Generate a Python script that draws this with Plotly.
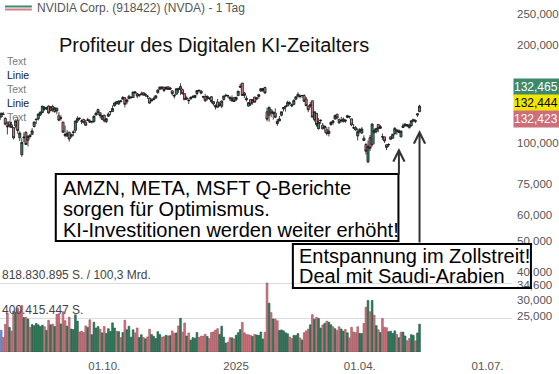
import math
import plotly.graph_objects as go

# ---------------- data ----------------
DATES = [
    # 2024-07
    "2024-07-17", "2024-07-18", "2024-07-19", "2024-07-22", "2024-07-23", "2024-07-24", "2024-07-25", "2024-07-26",
    "2024-07-29", "2024-07-30", "2024-07-31",
    # 2024-08
    "2024-08-01", "2024-08-02", "2024-08-05", "2024-08-06", "2024-08-07", "2024-08-08", "2024-08-09", "2024-08-12",
    "2024-08-13", "2024-08-14", "2024-08-15", "2024-08-16", "2024-08-19", "2024-08-20", "2024-08-21", "2024-08-22",
    "2024-08-23", "2024-08-26", "2024-08-27", "2024-08-28", "2024-08-29", "2024-08-30",
    # 2024-09
    "2024-09-03", "2024-09-04", "2024-09-05", "2024-09-06", "2024-09-09", "2024-09-10", "2024-09-11", "2024-09-12",
    "2024-09-13", "2024-09-16", "2024-09-17", "2024-09-18", "2024-09-19", "2024-09-20", "2024-09-23", "2024-09-24",
    "2024-09-25", "2024-09-26", "2024-09-27", "2024-09-30",
    # 2024-10
    "2024-10-01", "2024-10-02", "2024-10-03", "2024-10-04", "2024-10-07", "2024-10-08", "2024-10-09", "2024-10-10",
    "2024-10-11", "2024-10-14", "2024-10-15", "2024-10-16", "2024-10-17", "2024-10-18", "2024-10-21", "2024-10-22",
    "2024-10-23", "2024-10-24", "2024-10-25", "2024-10-28", "2024-10-29", "2024-10-30", "2024-10-31",
    # 2024-11
    "2024-11-01", "2024-11-04", "2024-11-05", "2024-11-06", "2024-11-07", "2024-11-08", "2024-11-11", "2024-11-12",
    "2024-11-13", "2024-11-14", "2024-11-15", "2024-11-18", "2024-11-19", "2024-11-20", "2024-11-21", "2024-11-22",
    "2024-11-25", "2024-11-26", "2024-11-27", "2024-11-29",
    # 2024-12
    "2024-12-02", "2024-12-03", "2024-12-04", "2024-12-05", "2024-12-06", "2024-12-09", "2024-12-10", "2024-12-11",
    "2024-12-12", "2024-12-13", "2024-12-16", "2024-12-17", "2024-12-18", "2024-12-19", "2024-12-20", "2024-12-23",
    "2024-12-24", "2024-12-26", "2024-12-27", "2024-12-30", "2024-12-31",
    # 2025-01
    "2025-01-02", "2025-01-03", "2025-01-06", "2025-01-07", "2025-01-08", "2025-01-10", "2025-01-13", "2025-01-14",
    "2025-01-15", "2025-01-16", "2025-01-17", "2025-01-21", "2025-01-22", "2025-01-23", "2025-01-24", "2025-01-27",
    "2025-01-28", "2025-01-29", "2025-01-30", "2025-01-31",
    # 2025-02
    "2025-02-03", "2025-02-04", "2025-02-05", "2025-02-06", "2025-02-07", "2025-02-10", "2025-02-11", "2025-02-12",
    "2025-02-13", "2025-02-14", "2025-02-18", "2025-02-19", "2025-02-20", "2025-02-21", "2025-02-24", "2025-02-25",
    "2025-02-26", "2025-02-27", "2025-02-28",
    # 2025-03
    "2025-03-03", "2025-03-04", "2025-03-05", "2025-03-06", "2025-03-07", "2025-03-10", "2025-03-11", "2025-03-12",
    "2025-03-13", "2025-03-14", "2025-03-17", "2025-03-18", "2025-03-19", "2025-03-20", "2025-03-21", "2025-03-24",
    "2025-03-25", "2025-03-26", "2025-03-27", "2025-03-28", "2025-03-31",
    # 2025-04
    "2025-04-01", "2025-04-02", "2025-04-03", "2025-04-04", "2025-04-07", "2025-04-08", "2025-04-09", "2025-04-10",
    "2025-04-11", "2025-04-14", "2025-04-15", "2025-04-16", "2025-04-17", "2025-04-21", "2025-04-22", "2025-04-23",
    "2025-04-24", "2025-04-25", "2025-04-28", "2025-04-29", "2025-04-30",
    # 2025-05
    "2025-05-01", "2025-05-02", "2025-05-05", "2025-05-06", "2025-05-07", "2025-05-08", "2025-05-09", "2025-05-12",
    "2025-05-13",
]

OPEN = [
    121.35, 121.85, 120.35, 120.35, 122.78, 119.17, 113.04, 116.19, 113.69, 111.52, 112.90,
    117.53, 103.76, 92.06, 103.84, 107.81, 102.00, 105.64, 106.32, 112.44, 118.53, 118.76, 121.94, 124.28, 128.40,
    127.32, 130.02, 125.86, 129.57, 125.05, 128.12, 121.36, 119.53,
    116.01, 105.41, 104.99, 108.04, 104.88, 107.81, 109.39, 116.84, 119.08, 116.79, 118.17, 115.89, 117.35, 117.06,
    116.55, 116.52, 122.02, 126.80, 123.97, 118.31,
    121.77, 116.44, 120.92, 124.94, 124.99, 130.26, 134.11, 131.91, 134.01, 136.47, 137.87, 133.98, 139.34, 138.67,
    138.13, 142.91, 142.03, 140.82, 140.93, 143.00, 140.29, 139.54, 137.60,
    134.70, 137.21, 137.45, 142.96, 146.39, 148.77, 148.68, 146.78, 149.07, 147.64, 144.87, 139.50, 141.32, 147.41,
    149.35, 145.93, 141.99, 137.70, 135.01, 136.78,
    138.83, 138.26, 142.00, 145.11, 144.60, 138.97, 139.01, 137.36, 137.08, 138.94, 134.18, 129.09, 133.86, 131.76,
    129.81, 136.28, 140.00, 139.70, 138.55, 134.83, 138.03,
    136.00, 140.01, 148.59, 153.03, 142.58, 137.45, 129.99, 136.05, 133.65, 138.64, 136.69, 139.16, 144.66, 145.05,
    148.37, 124.80, 121.81, 126.50, 123.10, 123.78,
    114.75, 116.96, 121.76, 127.42, 129.22, 130.09, 132.58, 130.02, 131.56, 136.48, 141.27, 139.51, 140.03, 140.04,
    136.56, 129.98, 129.99, 135.00, 118.02,
    123.51, 110.65, 117.58, 113.53, 111.25, 109.90, 106.99, 114.12, 117.03, 118.61, 122.74, 118.00, 117.27, 116.55,
    116.77, 119.88, 120.55, 118.73, 111.35, 111.49, 105.13,
    108.52, 107.29, 103.51, 98.91, 87.46, 103.81, 98.89, 109.37, 108.50, 114.11, 110.97, 104.55, 104.45, 98.77,
    98.78, 104.52, 103.48, 106.85, 109.69, 107.67, 104.47,
    113.08, 112.91, 112.80, 111.48, 113.05, 118.25, 117.35, 121.97, 124.98,
]

HIGH = [
    121.85, 122.40, 121.60, 124.07, 124.69, 119.95, 116.63, 116.20, 116.28, 111.99, 118.34,
    120.16, 108.72, 103.41, 107.71, 108.80, 105.50, 106.60, 111.07, 116.23, 118.60, 123.24, 125.00, 130.00, 129.88,
    129.35, 130.75, 129.60, 131.26, 129.20, 128.33, 124.43, 121.75,
    116.21, 113.27, 109.65, 108.15, 106.55, 109.40, 117.19, 120.79, 119.96, 118.18, 118.80, 117.70, 119.66, 118.62,
    116.99, 121.80, 124.94, 127.67, 124.03, 121.50,
    122.44, 119.38, 124.36, 125.04, 130.64, 133.48, 134.52, 135.00, 135.78, 139.60, 138.57, 136.62, 140.89, 138.90,
    143.71, 144.42, 142.43, 141.35, 144.13, 143.14, 142.26, 140.33, 138.35,
    137.31, 138.96, 140.37, 146.49, 148.93, 149.77, 148.85, 149.65, 149.33, 149.00, 145.24, 141.55, 147.13, 147.56,
    152.89, 147.16, 142.05, 139.30, 137.22, 139.35,
    140.45, 140.45, 145.79, 146.54, 145.70, 139.95, 141.82, 140.17, 138.44, 139.60, 134.40, 131.59, 136.70, 134.03,
    135.28, 139.79, 141.90, 140.85, 139.02, 140.27, 138.07,
    138.88, 144.90, 152.16, 153.13, 143.95, 139.92, 133.49, 136.38, 136.45, 138.75, 138.50, 141.83, 147.79, 147.23,
    148.97, 128.40, 129.00, 126.89, 125.00, 127.85,
    118.57, 121.20, 125.00, 128.77, 130.37, 135.00, 134.48, 132.24, 136.50, 139.25, 143.44, 141.36, 140.67, 141.46,
    138.59, 130.20, 133.73, 135.01, 125.09,
    123.70, 119.31, 118.28, 115.35, 113.00, 111.85, 112.23, 116.77, 117.76, 121.89, 122.90, 119.02, 120.45, 120.00,
    117.99, 122.22, 121.29, 118.84, 114.45, 112.87, 110.96,
    111.12, 111.98, 105.63, 100.13, 101.75, 105.85, 115.10, 110.86, 110.86, 114.29, 113.62, 106.95, 104.47, 99.00,
    99.81, 104.80, 106.54, 111.92, 110.37, 110.20, 108.92,
    114.94, 114.67, 114.40, 114.74, 117.68, 118.68, 118.23, 123.00, 131.22,
]

LOW = [
    116.72, 116.56, 117.37, 119.86, 122.10, 113.44, 106.30, 111.58, 111.30, 102.54, 110.88,
    106.81, 101.37, 90.69, 100.55, 98.69, 97.52, 103.43, 106.26, 111.58, 114.38, 117.47, 121.18, 123.42, 125.89,
    126.66, 123.10, 125.22, 124.37, 123.88, 122.64, 116.71, 117.22,
    107.29, 104.12, 104.76, 100.95, 103.69, 104.95, 107.42, 115.38, 117.60, 114.36, 114.83, 113.22, 117.25, 115.39,
    114.86, 115.38, 121.61, 121.80, 119.26, 118.15,
    115.79, 115.14, 120.34, 121.83, 124.95, 129.42, 131.38, 131.00, 133.66, 136.30, 128.74, 131.58, 136.87, 137.28,
    138.00, 141.78, 137.46, 138.46, 140.80, 140.05, 138.90, 136.81, 132.22,
    134.57, 135.57, 137.33, 141.96, 146.17, 146.26, 143.57, 146.01, 145.90, 145.55, 140.08, 137.15, 140.99, 142.73,
    140.70, 141.10, 135.82, 135.67, 131.80, 136.05,
    137.82, 137.32, 140.29, 143.95, 141.31, 137.13, 133.79, 135.21, 135.80, 132.54, 130.42, 126.86, 128.28, 129.55,
    128.22, 135.12, 138.65, 137.73, 134.71, 134.02, 133.83,
    134.63, 139.73, 147.82, 140.01, 137.56, 134.22, 129.51, 130.05, 131.29, 133.49, 135.46, 137.09, 143.67, 143.72,
    141.88, 116.70, 116.25, 120.05, 118.10, 119.19,
    113.01, 116.70, 120.76, 125.21, 125.00, 129.96, 131.02, 129.08, 131.17, 135.50, 137.93, 137.22, 137.78, 134.03,
    130.08, 124.44, 128.49, 120.01, 116.40,
    112.28, 110.11, 114.51, 110.22, 107.56, 105.46, 104.77, 112.88, 113.79, 118.15, 118.10, 114.54, 115.66, 115.58,
    115.37, 119.26, 118.90, 112.70, 110.66, 109.07, 101.83,
    107.00, 106.79, 101.60, 92.11, 86.62, 94.46, 97.53, 99.15, 107.16, 107.93, 110.50, 102.30, 100.05, 95.04,
    97.28, 102.02, 103.11, 105.73, 106.02, 107.44, 104.08,
    111.30, 112.66, 112.10, 110.82, 112.28, 115.85, 115.21, 120.28, 124.47,
]

CLOSE = [
    117.99, 121.09, 117.93, 123.54, 122.59, 114.25, 112.28, 113.06, 111.59, 103.73, 117.02,
    109.21, 107.27, 100.45, 104.25, 98.91, 104.97, 104.75, 109.02, 116.14, 118.08, 122.86, 124.58, 130.00, 127.25,
    128.50, 123.74, 129.37, 126.46, 128.30, 125.61, 117.59, 119.37,
    108.00, 106.21, 107.21, 102.83, 106.47, 108.10, 116.91, 119.14, 119.10, 116.78, 115.59, 113.37, 117.87, 116.00,
    116.26, 120.87, 123.51, 124.04, 121.40, 121.44,
    117.00, 118.85, 122.85, 124.92, 127.72, 132.89, 132.65, 134.81, 134.80, 138.07, 131.60, 135.72, 136.93, 138.00,
    143.71, 143.59, 139.56, 140.41, 141.54, 140.52, 141.25, 139.34, 132.76,
    135.40, 136.05, 139.91, 145.61, 148.88, 147.63, 145.26, 148.29, 146.27, 146.76, 141.98, 140.15, 147.01, 145.89,
    146.67, 141.95, 136.02, 136.92, 135.34, 138.25,
    138.63, 140.26, 145.14, 145.06, 142.44, 138.81, 135.07, 139.31, 137.34, 134.25, 132.00, 130.39, 128.91, 130.68,
    134.70, 139.67, 140.22, 139.93, 137.01, 137.49, 134.29,
    138.31, 144.47, 149.43, 140.14, 140.11, 135.91, 133.23, 131.76, 136.24, 133.57, 137.71, 140.83, 147.07, 147.22,
    142.62, 118.42, 128.99, 123.70, 124.65, 120.07,
    116.66, 118.65, 124.83, 128.68, 129.84, 133.57, 132.80, 131.14, 135.29, 138.85, 139.40, 139.23, 140.11, 134.43,
    130.28, 126.63, 131.28, 120.15, 124.92,
    114.06, 115.99, 117.30, 110.57, 112.69, 106.98, 108.76, 115.74, 115.58, 121.67, 119.53, 115.43, 117.52, 118.53,
    117.70, 121.41, 120.69, 113.76, 111.43, 109.67, 108.38,
    110.15, 110.42, 101.80, 94.31, 97.64, 96.30, 114.33, 107.57, 110.93, 110.71, 112.20, 104.49, 101.49, 96.91,
    98.89, 102.71, 106.43, 111.01, 108.73, 109.02, 108.92,
    111.61, 114.50, 113.82, 113.54, 117.06, 117.37, 116.65, 123.00, 129.93,
]

VOLUME_MIO = [
    390, 320, 218, 258, 173, 327, 460, 293, 248, 486, 473,
    523, 482, 552, 409, 411, 391, 290, 325, 312, 339, 322, 302, 318, 300, 257, 376, 323, 331, 303, 448, 453, 333,
    477, 372, 307, 413, 273, 268, 441, 367, 238, 248, 231, 310, 293, 382, 206, 354, 284, 302, 271, 227,
    302, 221, 277, 244, 346, 285, 246, 242, 170, 232, 377, 264, 306, 176, 264, 226, 285, 172, 205, 173, 157, 179, 270,
    207, 187, 160, 242, 208, 175, 182, 198, 191, 194, 250, 221, 227, 309, 400, 236, 344, 190, 226, 141,
    171, 164, 231, 172, 188, 189, 210, 184, 159, 231, 238, 260, 277, 209, 306, 176, 105, 116, 170, 168, 155,
    198, 229, 266, 351, 228, 207, 204, 196, 185, 209, 202, 197, 237, 155, 234, 818.83, 580, 467, 392, 390,
    371, 256, 262, 251, 228, 216, 178, 160, 197, 195, 219, 167, 143, 229, 251, 271, 323, 443, 389,
    411, 398, 285, 321, 341, 366, 354, 323, 300, 277, 255, 299, 273, 248, 267, 228, 167, 293, 237, 229, 300,
    222, 220, 338, 532, 612, 477, 612, 437, 313, 264, 231, 397, 292, 288, 241, 247, 220, 251, 207, 170, 235,
    236, 191, 133, 159, 206, 198, 132, 226, 330,
]

HOLIDAYS = ["2024-09-02", "2024-11-28", "2024-12-25", "2025-01-01", "2025-01-09", "2025-01-20",
            "2025-02-17", "2025-04-18", "2025-05-26", "2025-06-19", "2025-07-04"]

PRICE_TICK_TEXT = ["250,000", "200,000", "100,000", "75,000", "60,000", "50,000", "40,000",
                   "34,600", "30,000", "25,000"]
PRICE_TICK_POS = [250, 200, 100, 75, 60, 50, 40, 36.48, 32.8, 29.27]

X_TICK_VALS = ["2024-10-01", "2025-01-02", "2025-04-01", "2025-07-01"]
X_TICK_TEXT = ["01.10.", "2025", "01.04.", "01.07."]
X_RANGE = ["2024-07-19 10:00", "2025-07-17 21:00"]

VOL_GRID_VALS = [400.415447, 818.830895]
VOL_GRID_TEXT = ["400.415.447 S.", "818.830.895 S. / 100,3 Mrd."]

QUOTE_TEXT = ["132,465", "132,444", "132,423"]
QUOTE_PRICE = 132.444

TITLE = "Profiteur des Digitalen KI-Zeitalters"
HEADER = "NVIDIA Corp. (918422) (NVDA) - 1 Tag"
SIDE_ITEMS = ["Text", "Linie", "Text", "Linie", "Text"]
BOX1_LINES = ["AMZN, META, MSFT Q-Berichte", "sorgen für Optimismus.",
              "KI-Investitionen werden weiter erhöht!"]
BOX2_LINES = ["Entspannung im Zollstreit!", "Deal mit Saudi-Arabien"]
ARROW_DATES = ["2025-04-29", "2025-05-13"]

# ---------------- styling / geometry ----------------
W, H = 559, 374
ML, MR, MT, MB = 0, 45, 0, 22
PW, PH = W - ML - MR, H - MT - MB
FONT = "Liberation Sans, Arial, sans-serif"
GREEN = "#3b8a6b"
RED = "#d47c87"
VGREEN = "#2f7a5b"
VRED = "#cf7580"


def px(x):
    return (x - ML) / PW


def py(y):
    return 1 - (y - MT) / PH


vol_colors = []
vol_lines = []
for i, v in enumerate(VOLUME_MIO):
    if i <= 3:
        vol_colors.append("#6f93d8")
        vol_lines.append("#4a6fb5")
    elif CLOSE[i] >= CLOSE[i - 1]:
        vol_colors.append(VGREEN)
        vol_lines.append("#1f5a42")
    else:
        vol_colors.append(VRED)
        vol_lines.append("#9e4d58")

fig = go.Figure()

fig.add_trace(go.Bar(
    x=DATES, y=VOLUME_MIO, yaxis="y2",
    marker=dict(color=vol_colors, line=dict(color=vol_lines, width=0.6)),
    hoverinfo="skip", showlegend=False,
))

fig.add_trace(go.Candlestick(
    x=DATES, open=OPEN, high=HIGH, low=LOW, close=CLOSE,
    increasing=dict(fillcolor=GREEN, line=dict(color="#111111", width=0.8)),
    decreasing=dict(fillcolor=RED, line=dict(color="#111111", width=0.8)),
    whiskerwidth=0, hoverinfo="skip", showlegend=False, yaxis="y",
))

top_log = 2 + 143 / 324.2
bot_log = top_log - PH / 324.2
vol_max = 818.830895 * PH / 69.0

fig.update_layout(
    width=W, height=H,
    margin=dict(l=ML, r=MR, t=MT, b=MB),
    paper_bgcolor="white", plot_bgcolor="white",
    font=dict(family=FONT, size=11, color="#555555"),
    showlegend=False, bargap=0.15, boxgap=0.0, boxgroupgap=0.0,
    xaxis=dict(
        type="date", range=X_RANGE,
        rangebreaks=[dict(bounds=["sat", "mon"]), dict(values=HOLIDAYS)],
        tickvals=X_TICK_VALS, ticktext=X_TICK_TEXT, ticks="", showgrid=False,
        zeroline=False, showline=False, rangeslider=dict(visible=False),
        tickfont=dict(size=11.5, color="#555555", family=FONT), ticklabelstandoff=5,
    ),
    yaxis=dict(
        type="log", range=[bot_log, top_log], side="right",
        tickvals=PRICE_TICK_POS, ticktext=PRICE_TICK_TEXT, ticks="",
        showgrid=False, zeroline=False, showline=False,
        tickfont=dict(size=11.5, color="#555555", family=FONT), ticklabelstandoff=4,
    ),
    yaxis2=dict(
        overlaying="y", range=[0, vol_max], showticklabels=False, ticks="",
        tickvals=VOL_GRID_VALS, showgrid=True, gridcolor="#dcdcdc", gridwidth=1,
        zeroline=False, showline=False,
    ),
)

shapes = []
shapes.append(dict(type="line", xref="paper", yref="paper", x0=px(5), x1=px(32), y0=py(6.5), y1=py(6.5),
                   line=dict(color=GREEN, width=2)))
shapes.append(dict(type="line", xref="paper", yref="paper", x0=px(5), x1=px(32), y0=py(9.5), y1=py(9.5),
                   line=dict(color=RED, width=2)))
shapes.append(dict(type="rect", xref="paper", yref="paper", x0=px(56), x1=px(400), y0=py(174), y1=py(241),
                   line=dict(color="#000000", width=2), fillcolor="rgba(0,0,0,0)"))
shapes.append(dict(type="rect", xref="paper", yref="paper", x0=px(294), x1=px(533), y0=py(244), y1=py(288),
                   line=dict(color="#000000", width=2), fillcolor="rgba(0,0,0,0)"))
fig.update_layout(shapes=shapes)

ann = []
ann.append(dict(xref="paper", yref="paper", x=px(35), y=py(8), text=HEADER, showarrow=False,
                xanchor="left", yanchor="middle", font=dict(size=12, color="#555555", family=FONT)))
ann.append(dict(xref="paper", yref="paper", x=px(57), y=py(45), text=TITLE, showarrow=False,
                xanchor="left", yanchor="middle", font=dict(size=20, color="#111111", family=FONT)))
for i, t in enumerate(SIDE_ITEMS):
    ann.append(dict(xref="paper", yref="paper", x=px(5), y=py(61 + 14 * i), text=t, showarrow=False,
                    xanchor="left", yanchor="middle",
                    font=dict(size=10.5, color="#7a7a7a" if t == "Text" else "#1a1a1a", family=FONT)))
for i, t in enumerate(BOX1_LINES):
    ann.append(dict(xref="paper", yref="paper", x=px(61), y=py(188 + 21 * i), text=t, showarrow=False,
                    xanchor="left", yanchor="middle", font=dict(size=20, color="#000000", family=FONT)))
for i, t in enumerate(BOX2_LINES):
    ann.append(dict(xref="paper", yref="paper", x=px(298), y=py(256 + 20 * i), text=t, showarrow=False,
                    xanchor="left", yanchor="middle", font=dict(size=20, color="#000000", family=FONT)))
for v, t in zip(VOL_GRID_VALS, VOL_GRID_TEXT):
    ann.append(dict(xref="paper", yref="y2", x=0, y=v, text=t, showarrow=False, xanchor="left",
                    yanchor="bottom", yshift=-1, font=dict(size=12, color="#444444", family=FONT)))
q_styles = [(GREEN, "white"), ("#f2e500", "black"), ("#cc6f7a", "white")]
for i, (t, (bg, fg)) in enumerate(zip(QUOTE_TEXT, q_styles)):
    ann.append(dict(xref="paper", yref="y", x=1, y=math.log10(QUOTE_PRICE), text=t, showarrow=False,
                    xanchor="left", yanchor="middle", xshift=1, yshift=16 * (1 - i),
                    width=46, height=16, align="left", bgcolor=bg, borderpad=0,
                    font=dict(size=12, color=fg, family=FONT)))
arrow_tips = [148, 130]
arrow_tails = [176, 244]
for d, tip, tail in zip(ARROW_DATES, arrow_tips, arrow_tails):
    ann.append(dict(xref="x", yref="paper", x=d, y=py(tip), ax=0, ay=tail - tip, text="",
                    showarrow=True, arrowhead=5, arrowsize=1.1, arrowwidth=2, arrowcolor="#333333"))
fig.update_layout(annotations=ann)

fig.write_html("out.html")
